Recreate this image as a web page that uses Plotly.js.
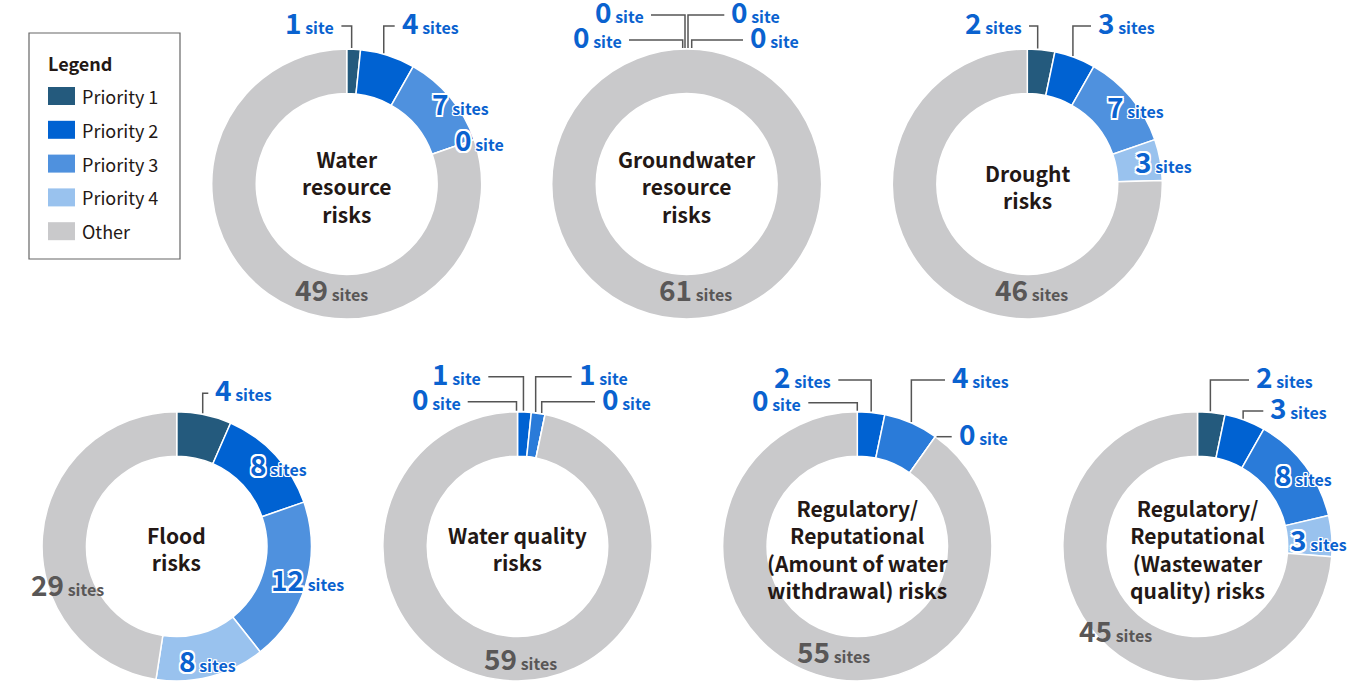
<!DOCTYPE html>
<html><head><meta charset="utf-8">
<script src="https://cdn.plot.ly/plotly-3.0.1.min.js"></script>
<style>html,body{margin:0;padding:0;background:#fff}#chart{width:1364px;height:681px}</style>
</head><body><div id="chart"></div>
<script>
// ---- data ----
const categories = ['Priority 1', 'Priority 2', 'Priority 3', 'Priority 4', 'Other'];
const chartTitles = [
  'Water<br>resource<br>risks',
  'Groundwater<br>resource<br>risks',
  'Drought<br>risks',
  'Flood<br>risks',
  'Water quality<br>risks',
  'Regulatory/<br>Reputational<br>(Amount of water<br>withdrawal) risks',
  'Regulatory/<br>Reputational<br>(Wastewater<br>quality) risks'
];
const waterResource   = [1, 4, 7, 0, 49];
const groundwater     = [0, 0, 0, 0, 61];
const drought         = [2, 3, 7, 3, 46];
const flood           = [4, 8, 12, 8, 29];
const waterQuality    = [0, 1, 1, 0, 59];
const regAmount       = [0, 2, 4, 0, 55];
const regWastewater   = [2, 3, 8, 3, 45];
const seriesList = [waterResource, groundwater, drought, flood, waterQuality, regAmount, regWastewater];

// ---- styles / layout config ----
const paletteA = ['#245a7d', '#0062d2', '#4f91de', '#99c2ee', '#c9c9cb'];
const paletteB = ['#245a7d', '#0062d2', '#2a7bd9', '#99c2ee', '#c9c9cb'];
const palettes = [paletteA, paletteA, paletteA, paletteA, paletteB, paletteB, paletteB];
const W = 1364, H = 681, R = 135, HOLE = 0.67;
const centers = [[346.7,184],[686.7,184],[1027.3,184],[176.7,546.7],[517.5,546.7],[857.3,546.7],[1197.5,546.7]];
// label placement per slice: [dx, dy, anchor, leader ('e' elbow, 'h' horizontal, '' none), nudge]
const placements = [
  [[-10.3,-158,'r','e',-2],[53,-158,'l','e',-4],[83,-77,'l','',0],[106,-41,'l','',0],[-54,109,'l','',0]],
  [[-62.7,-144,'r','e',-4],[-40.7,-169,'r','e',-1.7],[42.6,-169,'l','e',1.3],[61.3,-144,'l','e',5],[-30,109,'l','',0]],
  [[-3.3,-158,'r','e',-3.5],[68.7,-158,'l','e',-2],[77.7,-74,'l','',0],[105.7,-19,'l','',0],[-34.3,109,'l','',0]],
  [[36.6,-153.4,'l','e',-1.6],[71.3,-78.4,'l','',0],[92.6,36,'l','',0],[0,117.3,'l','',0],[-147.4,41.6,'l','',0]],
  [[-54.8,-145,'r','e',-1],[-34.2,-170,'r','e',-1],[59.2,-170,'l','e',-2.6],[82.5,-145,'l','e',-3.4],[-35.8,115,'l','',0]],
  [[-54,-144,'r','e',0],[-24,-166.7,'r','e',0],[92.7,-166.7,'l','e',0],[99.4,-110,'l','h',0],[-62.3,108.3,'l','',0]],
  [[56.5,-166.7,'l','e',-1],[70.8,-135.7,'l','e',-2],[75.8,-68.4,'l','',0],[90.8,-4,'l','',0],[-120.8,87.3,'l','',0]]
];
const TEXT_SHIFT = -4;   // box-centre vs visual-centre correction for labels
const FONT = '"Noto Sans CJK JP", "Noto Sans", sans-serif';
const BLUE = '#0a62cf', GRAY = '#595757', DARK = '#231815', LINE = '#555555';
function outline(w) {
  const s = [[-w,-w],[w,-w],[-w,w],[w,w],[0,w],[0,-w],[w,0],[-w,0]]
    .map(p => p[0] + 'px ' + p[1] + 'px 0 #fff').join(',');
  return 'text-shadow:' + s;
}

const px = x => x / W;
const py = y => 1 - y / H;

const traces = [], annotations = [], shapes = [];
seriesList.forEach((vals, i) => {
  const [cx, cy] = centers[i];
  const y0 = Math.min(H, cy + R), y1 = Math.max(0, cy - R);
  traces.push({
    type: 'pie', labels: categories, values: vals, hole: HOLE, sort: false,
    direction: 'clockwise', rotation: 0, textinfo: 'none', hoverinfo: 'label+value',
    marker: {colors: palettes[i], line: {color: '#ffffff', width: 1.5}},
    domain: {x: [px(cx - R), px(cx + R)], y: [py(y0), py(y1)]},
    showlegend: false
  });
  annotations.push({
    xref: 'paper', yref: 'paper', x: px(cx), y: py(cy + 2), xanchor: 'center', yanchor: 'middle',
    text: '<b>' + chartTitles[i] + '</b>', showarrow: false, align: 'center',
    font: {family: FONT, size: 21, color: DARK}
  });
  const total = vals.reduce((a, b) => a + b, 0);
  let cum = 0;
  vals.forEach((v, k) => {
    const [dx, dy, anc, leader, nudge] = placements[i][k];
    const mid = (cum + v / 2) / total * 2 * Math.PI;
    cum += v;
    const isOther = k === categories.length - 1;
    const lx = cx + dx, ly = cy + dy;
    const onRing = !leader && !isOther;
    const numStyle = 'font-size:28px' + (onRing ? ';' + outline(1.6) : '');
    const unitStyle = 'font-size:16px' + (onRing ? ';' + outline(1) : '');
    const unit = v <= 1 ? 'site' : 'sites';
    annotations.push({
      xref: 'paper', yref: 'paper', x: px(lx), y: py(ly + TEXT_SHIFT),
      xanchor: anc === 'l' ? 'left' : 'right', yanchor: 'middle', showarrow: false,
      text: '<b><span style="' + numStyle + '">' + v + '</span><span style="' + unitStyle + '"> ' + unit + '</span></b>',
      font: {family: FONT, size: 16, color: isOther ? GRAY : BLUE}
    });
    if (leader) {
      const gap = 5;
      const endX = anc === 'l' ? lx - gap : lx + gap;
      let path;
      if (leader === 'e') {
        const xs = cx + R * Math.sin(mid) + nudge;
        const yr = cy - Math.sqrt(Math.max(0, R * R - (xs - cx) * (xs - cx))) - 1;
        path = 'M' + px(xs) + ',' + py(yr) + 'L' + px(xs) + ',' + py(ly) + 'L' + px(endX) + ',' + py(ly);
      } else {
        const xs = cx + R * Math.sin(mid) + 1;
        path = 'M' + px(xs) + ',' + py(ly) + 'L' + px(endX) + ',' + py(ly);
      }
      shapes.push({type: 'path', xref: 'paper', yref: 'paper', path: path,
        line: {color: LINE, width: 1.5}, layer: 'above'});
    }
  });
});

// ---- legend (built from categories and palette) ----
const legendBox = {x0: 29, x1: 180, y0: 33, y1: 259};
shapes.push({type: 'rect', xref: 'paper', yref: 'paper',
  x0: px(legendBox.x0), x1: px(legendBox.x1), y0: py(legendBox.y1), y1: py(legendBox.y0),
  line: {color: '#666666', width: 1.2}, fillcolor: 'rgba(0,0,0,0)'});
annotations.push({xref: 'paper', yref: 'paper', x: px(46), y: py(63), xanchor: 'left', yanchor: 'middle',
  showarrow: false, text: '<b>Legend</b>', font: {family: FONT, size: 18, color: DARK}});
categories.forEach((c, k) => {
  const yc = 96 + k * 33.8;
  shapes.push({type: 'rect', xref: 'paper', yref: 'paper',
    x0: px(48), x1: px(75), y0: py(yc + 9), y1: py(yc - 9),
    line: {width: 0}, fillcolor: paletteA[k]});
  annotations.push({xref: 'paper', yref: 'paper', x: px(80), y: py(yc), xanchor: 'left', yanchor: 'middle',
    showarrow: false, text: c, font: {family: FONT, size: 18, color: DARK}});
});

const layout = {
  width: W, height: H, margin: {l: 0, r: 0, t: 0, b: 0},
  paper_bgcolor: '#ffffff', plot_bgcolor: '#ffffff', showlegend: false,
  annotations: annotations, shapes: shapes,
  font: {family: FONT}
};
Plotly.newPlot('chart', traces, layout, {displayModeBar: false, staticPlot: true});
</script>
</body></html>
